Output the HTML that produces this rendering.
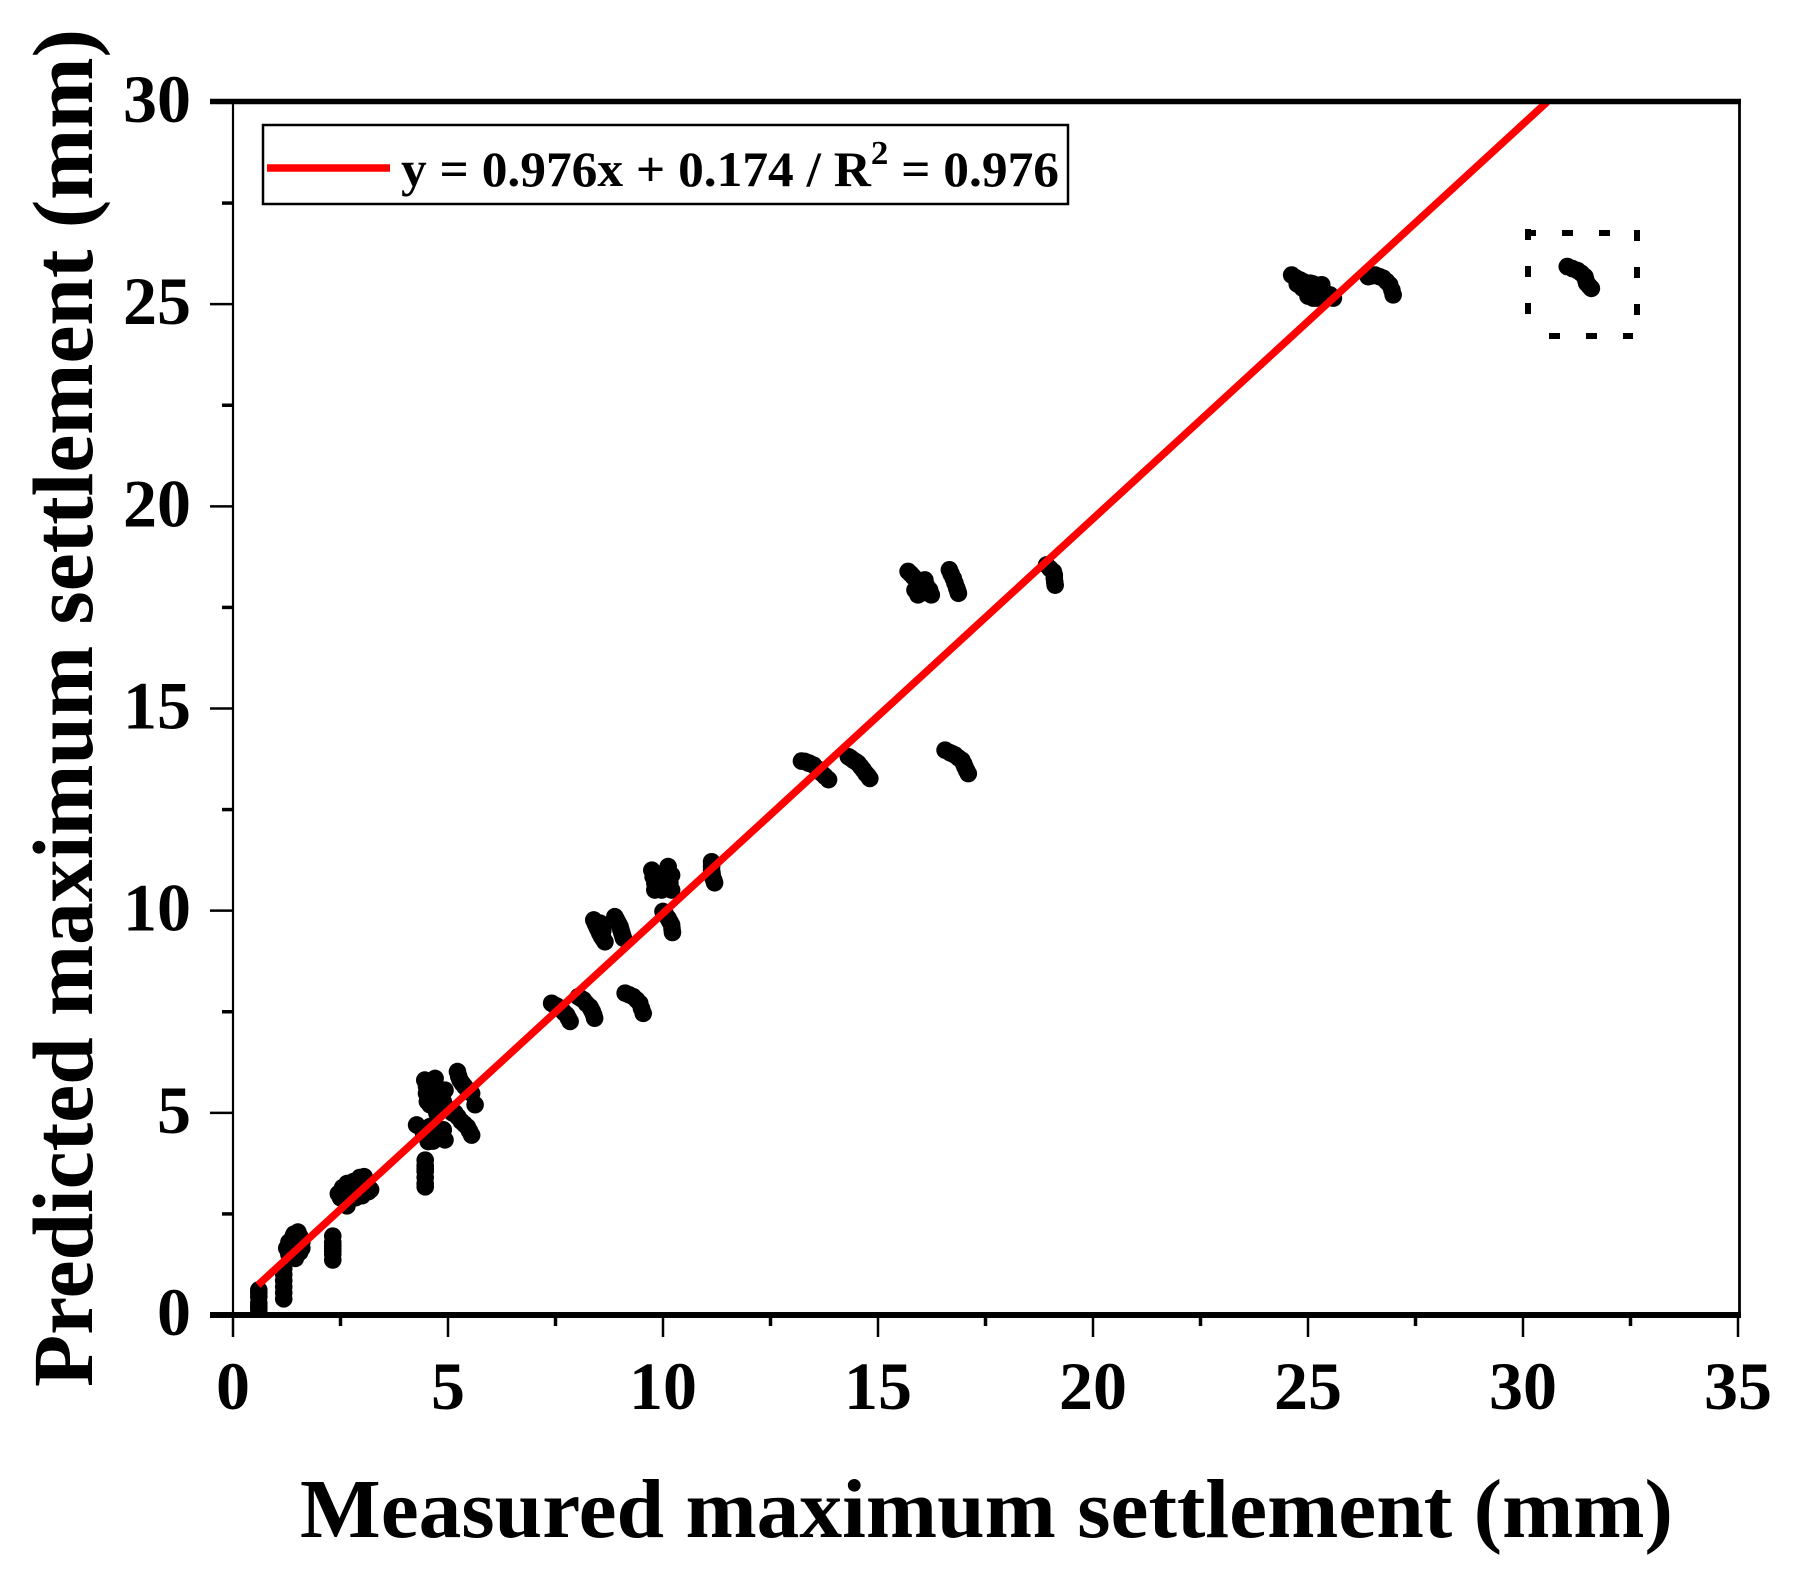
<!DOCTYPE html>
<html lang="en">
<head>
<meta charset="utf-8">
<title>Measured vs predicted maximum settlement</title>
<style>
html,body{margin:0;padding:0;background:#fff;width:1797px;height:1571px;overflow:hidden}
svg{display:block}
text{font-family:"Liberation Serif",serif;font-weight:bold;fill:#000}
</style>
</head>
<body>
<svg id="chart" xmlns="http://www.w3.org/2000/svg" width="1797" height="1571" viewBox="0 0 1797 1571">
<defs><clipPath id="plot-clip"><rect x="233" y="102" width="1506" height="1213"/></clipPath></defs>
<rect x="0" y="0" width="1797" height="1571" fill="#fff"/>
<g id="points" clip-path="url(#plot-clip)"></g>
<line id="fit-line" stroke="#f00" stroke-width="7.5" clip-path="url(#plot-clip)"/>
<g id="axes"></g>
<path d="M1525 233H1612M1528 229V316M1637 230V316M1549 336H1633" fill="none" stroke="#000" stroke-width="6" stroke-dasharray="11 26"/>
<g>
<rect x="263" y="125" width="805" height="79" fill="#fff" stroke="#000" stroke-width="2.5"/>
<line x1="267" y1="168" x2="390" y2="168" stroke="#f00" stroke-width="7.5"/>
<text x="401" y="186" font-size="50" textLength="658" lengthAdjust="spacingAndGlyphs">y = 0.976x + 0.174 / R<tspan font-size="34" dy="-22">2</tspan><tspan dy="22"> = 0.976</tspan></text>
</g>
<text x="300" y="1537" font-size="84" textLength="1373" lengthAdjust="spacingAndGlyphs">Measured maximum settlement (mm)</text>
<text transform="translate(92 1387) rotate(-90)" x="0" y="0" font-size="86" textLength="1358" lengthAdjust="spacingAndGlyphs">Predicted maximum settlement (mm)</text>
</svg>
<script>
const measuredValues = [
0.6,0.6,0.6,0.6,0.6,0.6,0.6,
1.18,1.18,1.18,1.18,1.18,1.18,
1.51,1.4,1.3,1.25,1.5,1.4,1.35,1.5,1.45,1.6,1.55,1.3,1.35,1.45,1.55,1.4,1.5,1.3,1.6,1.42,
2.32,2.32,2.32,2.32,2.32,2.32,2.32,
2.55,2.55,2.75,2.9,3.05,2.7,2.85,3.0,3.15,3.1,2.6,2.85,3.0,2.65,2.5,2.45,2.65,2.8,2.95,2.7,2.95,3.1,2.8,2.6,3.2,
4.47,4.47,4.47,4.47,4.47,4.47,4.47,
4.27,4.58,4.89,4.54,4.93,4.74,4.43,4.4,4.6,4.75,4.85,4.65,
4.46,4.7,4.5,4.81,4.58,4.89,4.66,4.93,4.74,4.52,4.6,4.75,4.6,4.7,4.85,4.6,4.5,5.0,5.1,
5.22,5.28,5.39,5.55,5.63,5.25,5.33,5.47,
5.16,5.31,5.45,5.55,5.23,5.38,5.5,
7.41,7.53,7.64,7.76,7.84,7.47,7.58,7.7,7.8,
8.03,8.15,8.3,8.36,8.41,8.09,8.22,8.33,8.39,
9.12,9.31,9.39,9.46,9.54,9.21,9.5,
8.39,8.44,8.5,8.57,8.65,8.54,8.42,8.47,8.53,8.61,8.6,
8.88,8.94,9.0,9.04,9.08,8.91,8.97,9.02,9.06,
9.74,10.12,9.81,10.16,9.77,10.2,9.97,9.97,9.81,10.2,9.9,10.05,9.87,10.05,9.9,10.08,
10.0,10.12,10.2,10.22,10.06,10.16,10.21,
11.13,11.13,11.15,11.2,11.13,11.14,11.18,
13.3,13.5,13.69,13.85,13.77,13.38,13.4,13.6,13.22,
14.31,14.43,14.54,14.66,14.72,14.81,14.37,14.49,14.6,14.77,
16.56,16.67,16.79,16.95,17.02,17.1,16.73,16.87,16.99,17.06,
15.7,15.82,15.97,16.0,16.2,15.86,16.09,15.93,16.24,15.76,15.9,16.03,16.1,16.12,15.95,
16.66,16.75,16.83,16.87,16.7,16.79,16.85,
18.92,19.08,19.1,19.12,19.0,19.1,19.11,
24.62,24.81,24.93,25.05,25.24,25.12,25.32,25.51,25.59,24.7,24.75,24.87,24.98,25.05,25.15,25.28,25.4,25.0,25.2,24.9,25.12,
26.4,26.56,26.75,26.83,26.9,26.98,26.48,26.66,26.95,
31.03,31.27,31.44,31.48,31.59,31.15,31.36,31.46,31.54
];
const predictedValues = [
0.62,0.45,0.3,0.15,0.05,0.55,0.22,
0.4,0.55,0.7,0.85,1.0,1.15,
2.05,1.95,1.8,1.65,1.85,1.7,1.5,1.6,1.4,1.8,1.55,1.5,1.75,1.85,1.95,1.55,1.7,1.65,1.65,2.0,
1.95,1.8,1.65,1.5,1.36,1.72,1.58,
3.0,3.15,3.2,3.3,3.42,3.0,3.1,3.2,3.05,3.25,2.85,2.9,2.95,2.7,2.9,3.0,3.25,3.3,3.4,2.85,3.05,3.1,3.0,3.05,3.1,
3.83,3.7,3.55,3.4,3.25,3.17,3.62,
4.7,4.66,4.58,4.29,4.33,4.41,4.5,4.6,4.5,4.6,4.4,4.3,
5.81,5.85,5.48,5.48,5.2,5.28,5.65,5.56,5.0,5.28,5.7,5.6,5.4,5.3,5.35,5.55,5.65,5.1,5.0,
6.02,5.81,5.65,5.48,5.2,5.9,5.73,5.55,
5.0,4.79,4.65,4.45,4.9,4.72,4.55,
7.71,7.64,7.55,7.42,7.26,7.67,7.6,7.48,7.34,
7.87,7.79,7.62,7.5,7.34,7.83,7.7,7.56,7.42,
7.96,7.87,7.79,7.71,7.46,7.92,7.58,
9.77,9.65,9.52,9.36,9.23,9.69,9.7,9.58,9.44,9.3,9.5,
9.85,9.73,9.61,9.46,9.32,9.79,9.67,9.53,9.39,
11.0,11.09,10.68,10.68,10.84,10.88,10.51,10.84,10.51,10.51,10.7,10.7,10.9,10.95,10.55,10.55,
9.98,9.81,9.65,9.46,9.9,9.73,9.55,
11.21,11.0,10.84,10.69,11.1,10.92,10.76,
13.69,13.6,13.4,13.24,13.32,13.65,13.65,13.5,13.7,
13.81,13.72,13.64,13.48,13.39,13.27,13.77,13.68,13.56,13.33,
13.97,13.91,13.85,13.72,13.56,13.39,13.88,13.78,13.64,13.47,
18.39,18.26,18.1,17.85,17.93,17.93,18.18,17.81,17.81,18.33,18.18,18.0,17.9,18.05,17.95,
18.43,18.22,17.98,17.85,18.33,18.1,17.92,
18.55,18.38,18.22,18.05,18.46,18.3,18.13,
25.72,25.6,25.43,25.52,25.35,25.15,25.48,25.23,25.15,25.66,25.5,25.4,25.3,25.35,25.42,25.25,25.28,25.2,25.15,25.55,25.5,
25.68,25.72,25.64,25.56,25.48,25.23,25.7,25.68,25.35,
25.93,25.83,25.68,25.52,25.39,25.88,25.76,25.6,25.45
];
const xTickLabels = [0,5,10,15,20,25,30,35];
const yTickLabels = [0,5,10,15,20,25,30];
const xMinorTicks = [2.5,7.5,12.5,17.5,22.5,27.5,32.5];
const yMinorTicks = [2.5,7.5,12.5,17.5,22.5,27.5];
const fitSlope = 0.976;
const fitIntercept = 0.174;
const fitRange = [0.58,30.56];

const NS = 'http://www.w3.org/2000/svg';
const xScale = v => 233 + v * 43;
const yScale = v => 1315 - v * (1213 / 30);
const axes = document.getElementById('axes');
const pointsGroup = document.getElementById('points');

function make(tag, attrs, parent) {
  const el = document.createElementNS(NS, tag);
  for (const k in attrs) el.setAttribute(k, attrs[k]);
  parent.appendChild(el);
  return el;
}

measuredValues.forEach((m, i) => {
  const c = make('circle', {cx: xScale(m), cy: yScale(predictedValues[i]), r: 8.8, fill: '#000'}, pointsGroup);
  
  
});

const fit = document.getElementById('fit-line');
fit.setAttribute('x1', xScale(fitRange[0]));
fit.setAttribute('y1', yScale(fitSlope * fitRange[0] + fitIntercept));
fit.setAttribute('x2', xScale(fitRange[1]));
fit.setAttribute('y2', yScale(fitSlope * fitRange[1] + fitIntercept));

const frame = [
  ['axis-top', 210, 101.5, 1741, 101.5, 5.5],
  ['axis-bottom', 210, 1315, 1741, 1315, 6],
  ['axis-left', 233, 102, 233, 1315, 2.2],
  ['axis-right', 1739.5, 102, 1739.5, 1315, 2.8]
];
frame.forEach(f => {
  const l = make('line', {x1: f[1], y1: f[2], x2: f[3], y2: f[4], stroke: '#000', 'stroke-width': f[5]}, axes);
  
  
});

xTickLabels.forEach(v => {
  const x = xScale(v);
  const l = make('line', {x1: x, y1: 1315, x2: x, y2: 1337, stroke: '#000', 'stroke-width': 2.5}, axes);
  
  
  const t = make('text', {x: x, y: 1409, 'font-size': 68, 'text-anchor': 'middle'}, axes);
  
  
  t.textContent = v;
});
xMinorTicks.forEach(v => {
  const x = xScale(v);
  const l = make('line', {x1: x, y1: 1315, x2: x, y2: 1326, stroke: '#000', 'stroke-width': 3.5}, axes);
  
  
});
yTickLabels.forEach(v => {
  const y = yScale(v);
  const l = make('line', {x1: 210, y1: y, x2: 233, y2: y, stroke: '#000', 'stroke-width': 2.5}, axes);
  
  
  const t = make('text', {x: 191, y: y + 20, 'font-size': 68, 'text-anchor': 'end'}, axes);
  
  
  t.textContent = v;
});
yMinorTicks.forEach(v => {
  const y = yScale(v);
  const l = make('line', {x1: 222, y1: y, x2: 233, y2: y, stroke: '#000', 'stroke-width': 3.5}, axes);
  
  
});
</script>
</body>
</html>
